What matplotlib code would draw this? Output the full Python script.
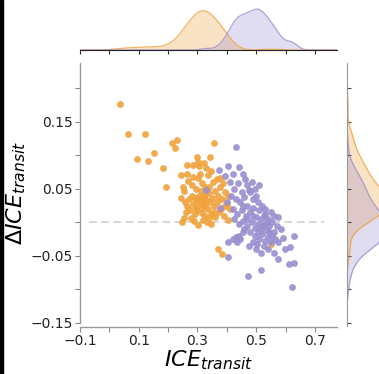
import numpy as np
import matplotlib
matplotlib.use("Agg")
import matplotlib.pyplot as plt
from matplotlib.patches import Rectangle

# Data
orange_x = [0.037, 0.064, 0.122, 0.093, 0.131, 0.152, 0.184, 0.193, 0.213, 0.231,
            0.223, 0.356, 0.342, 0.299, 0.302, 0.263, 0.284, 0.306, 0.329, 0.243,
            0.264, 0.286, 0.309, 0.301, 0.316, 0.325, 0.340, 0.377, 0.388, 0.252,
            0.255, 0.243, 0.258, 0.265, 0.270, 0.280, 0.285, 0.290, 0.295, 0.300,
            0.305, 0.310, 0.312, 0.318, 0.320, 0.323, 0.327, 0.330, 0.335, 0.338,
            0.342, 0.347, 0.350, 0.355, 0.360, 0.365, 0.370, 0.376, 0.380, 0.385,
            0.390, 0.395, 0.400, 0.248, 0.255, 0.277, 0.303, 0.331, 0.345, 0.403,
            0.371, 0.382, 0.550, 0.262, 0.275, 0.290, 0.315, 0.325, 0.360, 0.372,
            0.296, 0.312, 0.282, 0.352, 0.365, 0.335, 0.322, 0.345, 0.268, 0.392,
            0.405, 0.410, 0.325, 0.300, 0.340, 0.355, 0.288, 0.318]
orange_y = [0.176, 0.131, 0.131, 0.095, 0.092, 0.103, 0.081, 0.053, 0.119, 0.122,
            0.111, 0.119, 0.097, 0.097, 0.090, 0.085, 0.085, 0.084, 0.081, 0.070,
            0.072, 0.068, 0.072, 0.066, 0.058, 0.053, 0.053, 0.066, 0.058, 0.053,
            0.046, 0.036, 0.030, 0.025, 0.035, 0.040, 0.028, 0.036, 0.022, 0.032,
            0.040, 0.027, 0.035, 0.022, 0.030, 0.038, 0.026, 0.033, 0.020, 0.044,
            0.030, 0.012, 0.036, 0.025, 0.046, 0.030, 0.040, 0.052, 0.020, 0.035,
            0.010, 0.045, 0.028, 0.000, 0.007, 0.007, -0.004, 0.001, -0.002, 0.003,
            -0.040, -0.047, -0.032, 0.016, 0.018, 0.012, 0.014, 0.010, 0.008, 0.015,
            0.050, 0.046, 0.056, 0.060, 0.064, 0.070, 0.088, 0.076, 0.061, 0.024,
            0.040, 0.020, 0.042, 0.018, 0.006, 0.015, 0.002, 0.003]

purple_x = [0.431, 0.403, 0.373, 0.394, 0.422, 0.456, 0.440, 0.462, 0.468, 0.475,
            0.329, 0.377, 0.403, 0.405, 0.420, 0.430, 0.440, 0.455, 0.476, 0.501,
            0.471, 0.516, 0.560, 0.575, 0.591, 0.598, 0.616, 0.629, 0.613, 0.628,
            0.623, 0.410, 0.425, 0.438, 0.450, 0.415, 0.430, 0.445, 0.460, 0.470,
            0.402, 0.420, 0.435, 0.450, 0.465, 0.480, 0.490, 0.500, 0.510, 0.520,
            0.530, 0.540, 0.550, 0.425, 0.440, 0.455, 0.470, 0.485, 0.495, 0.505,
            0.515, 0.525, 0.535, 0.545, 0.555, 0.560, 0.570, 0.575, 0.585, 0.480,
            0.495, 0.510, 0.520, 0.530, 0.540, 0.550, 0.555, 0.565, 0.500, 0.515,
            0.490, 0.505, 0.480, 0.495, 0.485, 0.500, 0.515, 0.525, 0.535, 0.545,
            0.460, 0.435, 0.445, 0.525, 0.540, 0.470, 0.490, 0.505, 0.520, 0.530,
            0.560, 0.575, 0.510, 0.490, 0.455]
purple_y = [0.113, 0.084, 0.078, 0.069, 0.072, 0.072, 0.082, 0.064, 0.055, 0.048,
            0.048, 0.021, -0.052, -0.029, -0.025, -0.022, -0.020, -0.015, -0.035, -0.033,
            -0.080, -0.071, -0.046, -0.055, -0.023, -0.039, -0.037, -0.021, -0.062, -0.061,
            -0.097, 0.060, 0.050, 0.058, 0.045, 0.040, 0.035, 0.030, 0.038, 0.025,
            0.030, 0.020, 0.012, 0.018, 0.010, 0.015, 0.022, 0.008, 0.018, 0.025,
            0.012, 0.005, 0.015, 0.005, -0.002, 0.002, -0.005, 0.000, -0.008, -0.002,
            -0.010, -0.004, -0.012, -0.006, 0.000, -0.015, -0.005, 0.008, -0.010, -0.015,
            -0.020, -0.025, -0.018, -0.028, -0.022, -0.030, -0.020, -0.025, -0.040, -0.045,
            0.035, 0.030, 0.045, 0.050, 0.060, 0.040, 0.005, 0.010, 0.000, -0.015,
            -0.010, -0.030, -0.025, -0.035, -0.040, 0.005, -0.030, -0.015, -0.005, 0.020,
            0.010, -0.030, 0.055, 0.010, 0.025]

x_ticks = [-0.1, 0.1, 0.3, 0.5, 0.7]
x_minor = [0.0, 0.2, 0.4, 0.6]
y_ticks = [-0.15, -0.05, 0.05, 0.15]
y_minor = [-0.1, 0.0, 0.1, 0.2]

orange = "#f0a23c"
purple = "#9a8fcf"


def kde(data, grid, weight, adjust=1.0):
    data = np.asarray(data)
    bw = adjust * data.std(ddof=1) * len(data) ** (-1 / 5)
    z = (grid[:, None] - data[None, :]) / bw
    dens = np.exp(-0.5 * z ** 2).sum(axis=1) / (len(data) * bw * np.sqrt(2 * np.pi))
    return dens * weight


n_total = len(orange_x) + len(purple_x)
w_o = len(orange_x) / n_total
w_p = len(purple_x) / n_total

fig = plt.figure(figsize=(3.79, 3.74), dpi=100)
W, H = 379, 374

# Main scatter
ax = fig.add_axes([80 / W, 1 - 323 / H, 257 / W, 260 / H])
ax.scatter(orange_x, orange_y, s=24, color=orange, alpha=0.9, linewidths=0, zorder=3)
ax.scatter(purple_x, purple_y, s=24, color=purple, alpha=0.9, linewidths=0, zorder=3)
ax.hlines(0, -0.07, 0.73, colors="#cccccc", linestyles=(0, (5, 3)), linewidth=1.1, zorder=1)
ax.set_xlim(-0.1, 0.775)
ax.set_ylim(-0.15, 0.2375)
ax.set_xticks(x_ticks)
ax.set_xticks(x_minor, minor=True)
ax.set_yticks(y_ticks)
ax.set_yticks(y_minor, minor=True)
ax.set_xticklabels(["\u22120.1", "0.1", "0.3", "0.5", "0.7"])
ax.set_yticklabels(["\u22120.15", "\u22120.05", "0.05", "0.15"])
ax.tick_params(which="both", length=3.5, width=0.8, color="#888888",
               labelsize=10, labelcolor="#222222", pad=1.5)
for side in ["top", "right"]:
    ax.spines[side].set_visible(False)
for side in ["left", "bottom"]:
    ax.spines[side].set_color("#999999")
    ax.spines[side].set_linewidth(1.0)
ax.spines["bottom"].set_position(("outward", 3))
ax.set_xlabel(r"$ICE_{transit}$", fontsize=16, labelpad=0)
ax.set_ylabel(r"$\Delta ICE_{transit}$", fontsize=16, labelpad=2)

# Top marginal
gx = np.linspace(-0.1, 0.775, 400)
do = kde(orange_x, gx, w_o, adjust=1.0)
dp = kde(purple_x, gx, w_p, adjust=0.75)
axt = fig.add_axes([80 / W, 1 - 50 / H, 257 / W, 45 / H])
axt.fill_between(gx, 0, do, color=orange, alpha=0.3, linewidth=0)
axt.plot(gx, do, color=orange, linewidth=0.9, alpha=0.8)
axt.fill_between(gx, 0, dp, color=purple, alpha=0.3, linewidth=0)
axt.plot(gx, dp, color=purple, linewidth=0.9, alpha=0.8)
axt.set_xlim(-0.1, 0.775)
axt.set_ylim(0, max(do.max(), dp.max()) * 1.1)
axt.set_xticks(np.arange(-0.1, 0.75, 0.1))
axt.set_xticklabels([])
axt.set_yticks([])
axt.tick_params(axis="x", length=3, width=0.8, color="#333333")
for side in ["top", "right", "left"]:
    axt.spines[side].set_visible(False)
axt.spines["bottom"].set_color("#222222")
axt.patch.set_alpha(0)

# Right marginal (cut off by the figure edge as in the reference)
gy = np.linspace(-0.15, 0.2375, 400)
eo = kde(orange_y, gy, w_o)
ep = kde(purple_y, gy, w_p)
axr = fig.add_axes([347 / W, 1 - 326 / H, 45 / W, 263 / H])
axr.fill_betweenx(gy, 0, eo, color=orange, alpha=0.3, linewidth=0)
axr.plot(eo, gy, color=orange, linewidth=0.9, alpha=0.8)
axr.fill_betweenx(gy, 0, ep, color=purple, alpha=0.3, linewidth=0)
axr.plot(ep, gy, color=purple, linewidth=0.9, alpha=0.8)
axr.set_ylim(-0.1545, 0.2375)
axr.set_xlim(0, max(eo.max(), ep.max()) * 1.1)
axr.set_yticks(np.arange(-0.15, 0.21, 0.05))
axr.set_yticklabels([])
axr.set_xticks([])
axr.tick_params(axis="y", direction="in", length=3, width=0.8, color="#444444")
for side in ["top", "right", "bottom"]:
    axr.spines[side].set_visible(False)
axr.spines["left"].set_color("#999999")
axr.patch.set_alpha(0)

# dark strip on the left edge of the screenshot
fig.patches.append(Rectangle((0, 0), 2.5 / W, 1, transform=fig.transFigure,
                             color="black", zorder=10))

plt.savefig("out.png", dpi=100)
